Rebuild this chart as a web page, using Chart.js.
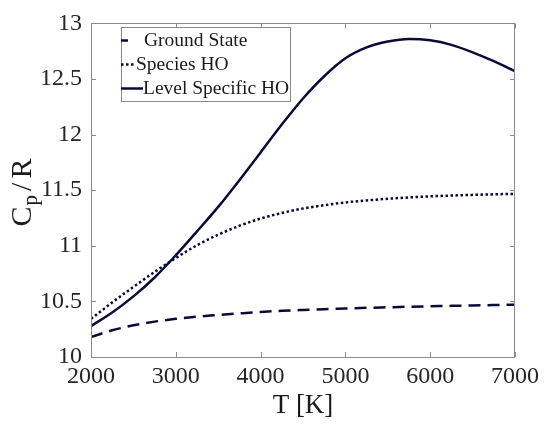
<!DOCTYPE html>
<html>
<head>
<meta charset="utf-8">
<script src="https://cdn.jsdelivr.net/npm/chart.js@4.4.1/dist/chart.umd.min.js"></script>
<style>
  html, body { margin: 0; padding: 0; background: #fff; }
  #wrap { width: 544px; height: 427px; }
</style>
</head>
<body>
<div id="wrap"><canvas id="chart" width="544" height="427"></canvas></div>
<script>
// temperature grid [K]
const temps = [2000, 2250, 2500, 2750, 3000, 3250, 3500, 3750, 4000, 4250, 4500,
               4750, 5000, 5250, 5500, 5750, 6000, 6250, 6500, 6750, 7000];

// Cp/R
const groundState = [10.18, 10.24, 10.285, 10.318, 10.343, 10.363, 10.378, 10.392, 10.405, 10.415, 10.423,
                     10.43, 10.436, 10.442, 10.447, 10.452, 10.456, 10.46, 10.464, 10.467, 10.47];
const speciesHO = [10.343, 10.49, 10.63, 10.765, 10.89, 11.005, 11.10, 11.18, 11.245, 11.295, 11.335,
                   11.365, 11.39, 11.408, 11.423, 11.435, 11.445, 11.452, 11.458, 11.463, 11.467];
const levelHO = [10.278, 10.40, 10.545, 10.715, 10.915, 11.13, 11.35, 11.59, 11.84, 12.09, 12.325,
                 12.525, 12.686, 12.784, 12.837, 12.86, 12.848, 12.807, 12.74, 12.66, 12.57];

const seriesNames = ['Ground State', 'Species HO', 'Level Specific HO'];
const xTicks = [2000, 3000, 4000, 5000, 6000, 7000];
const yTicks = [10, 10.5, 11, 11.5, 12, 12.5, 13];

const lineColor = '#0a0a38';
const serif = '"Liberation Serif", "DejaVu Serif", serif';

function toPoints(vals) {
  return temps.map((t, i) => ({ x: t, y: vals[i] }));
}

// box, inner ticks, legend and axis titles in the MATLAB look
const framePlugin = {
  id: 'frame',
  afterDraw(chart) {
    const ctx = chart.ctx;
    const a = chart.chartArea;
    const xs = chart.scales.x, ys = chart.scales.y;
    ctx.save();
    ctx.strokeStyle = '#8a8a8a';
    ctx.lineWidth = 1;
    ctx.setLineDash([]);
    ctx.strokeRect(Math.round(a.left) + 0.5, Math.round(a.top) + 0.5,
                   Math.round(a.right - a.left) - 1, Math.round(a.bottom - a.top));
    ctx.beginPath();
    xTicks.forEach(v => {
      const px = Math.round(xs.getPixelForValue(v)) + 0.5;
      ctx.moveTo(px, a.bottom); ctx.lineTo(px, a.bottom - 5);
      ctx.moveTo(px, a.top); ctx.lineTo(px, a.top + 5);
    });
    yTicks.forEach(v => {
      const py = Math.round(ys.getPixelForValue(v)) + 0.5;
      ctx.moveTo(a.left, py); ctx.lineTo(a.left + 5, py);
      ctx.moveTo(a.right, py); ctx.lineTo(a.right - 5, py);
    });
    ctx.stroke();

    // legend
    ctx.fillStyle = '#fff';
    ctx.fillRect(121, 27, 169, 74);
    ctx.strokeStyle = '#8a8a8a';
    ctx.strokeRect(121.5, 27.5, 169, 74);
    const samples = [[121, 128], [121, 135], [121, 143]];
    const textX = [144, 136, 143];
    ctx.font = '19.5px ' + serif;
    ctx.textBaseline = 'alphabetic';
    ctx.textAlign = 'left';
    chart.data.datasets.forEach((ds, i) => {
      const base = 46 + i * 24;
      ctx.strokeStyle = ds.borderColor;
      ctx.lineWidth = ds.borderWidth;
      ctx.setLineDash(i === 1 ? [2.5, 2.5] : []);
      ctx.beginPath();
      ctx.moveTo(samples[i][0], base - 5.5);
      ctx.lineTo(samples[i][1], base - 5.5);
      ctx.stroke();
      ctx.fillStyle = '#1a1a1a';
      ctx.fillText(ds.label, textX[i], base);
    });
    ctx.setLineDash([]);

    // x title
    ctx.fillStyle = '#1a1a1a';
    ctx.font = '27px ' + serif;
    ctx.textAlign = 'center';
    ctx.fillText('T [K]', (a.left + a.right) / 2, 413);

    // y title with subscript
    ctx.translate(31, 192.5);
    ctx.rotate(-Math.PI / 2);
    ctx.textAlign = 'left';
    const big = '30px ' + serif, small = '21px ' + serif;
    ctx.font = big; const wC = ctx.measureText('C').width;
    ctx.font = small; const wp = ctx.measureText('p').width;
    ctx.font = big; const wS = ctx.measureText('/').width, wR = ctx.measureText('R').width;
    const gaps = [1, 4, 4];
    const total = wC + wp + wS + wR + gaps[0] + gaps[1] + gaps[2];
    let x = -total / 2;
    ctx.font = big; ctx.fillText('C', x, 0); x += wC + gaps[0];
    ctx.font = small; ctx.fillText('p', x, 6); x += wp + gaps[1];
    ctx.font = big; ctx.fillText('/', x, 0); x += wS + gaps[2];
    ctx.fillText('R', x, 0);
    ctx.restore();
  }
};

new Chart(document.getElementById('chart').getContext('2d'), {
  type: 'line',
  data: {
    datasets: [
      { label: seriesNames[0], data: toPoints(groundState), borderColor: lineColor,
        borderWidth: 2.5, borderDash: [12, 7], pointRadius: 0, cubicInterpolationMode: 'monotone' },
      { label: seriesNames[1], data: toPoints(speciesHO), borderColor: lineColor,
        borderWidth: 2.5, borderDash: [2.5, 2.5], pointRadius: 0, cubicInterpolationMode: 'monotone' },
      { label: seriesNames[2], data: toPoints(levelHO), borderColor: lineColor,
        borderWidth: 2.5, pointRadius: 0, cubicInterpolationMode: 'monotone' }
    ]
  },
  options: {
    responsive: false,
    animation: false,
    devicePixelRatio: 1,
    layout: { padding: { top: 19, right: 26, left: 0, bottom: 0 } },
    plugins: { legend: { display: false }, tooltip: { enabled: false } },
    scales: {
      x: {
        type: 'linear', min: 2000, max: 7000,
        afterFit: s => { s.height = 70; },
        grid: { display: false, drawTicks: false },
        border: { display: false },
        afterBuildTicks: s => { s.ticks = xTicks.map(v => ({ value: v })); },
        ticks: { font: { family: serif, size: 24 }, color: '#262626', padding: 5, maxRotation: 0,
                 callback: v => String(v) }
      },
      y: {
        min: 10, max: 13,
        afterFit: s => { s.width = 91; },
        grid: { display: false, drawTicks: false },
        border: { display: false },
        afterBuildTicks: s => { s.ticks = yTicks.map(v => ({ value: v })); },
        ticks: { font: { family: serif, size: 24 }, color: '#262626', padding: 9,
                 callback: v => String(v) }
      }
    }
  },
  plugins: [framePlugin]
});
</script>
</body>
</html>
